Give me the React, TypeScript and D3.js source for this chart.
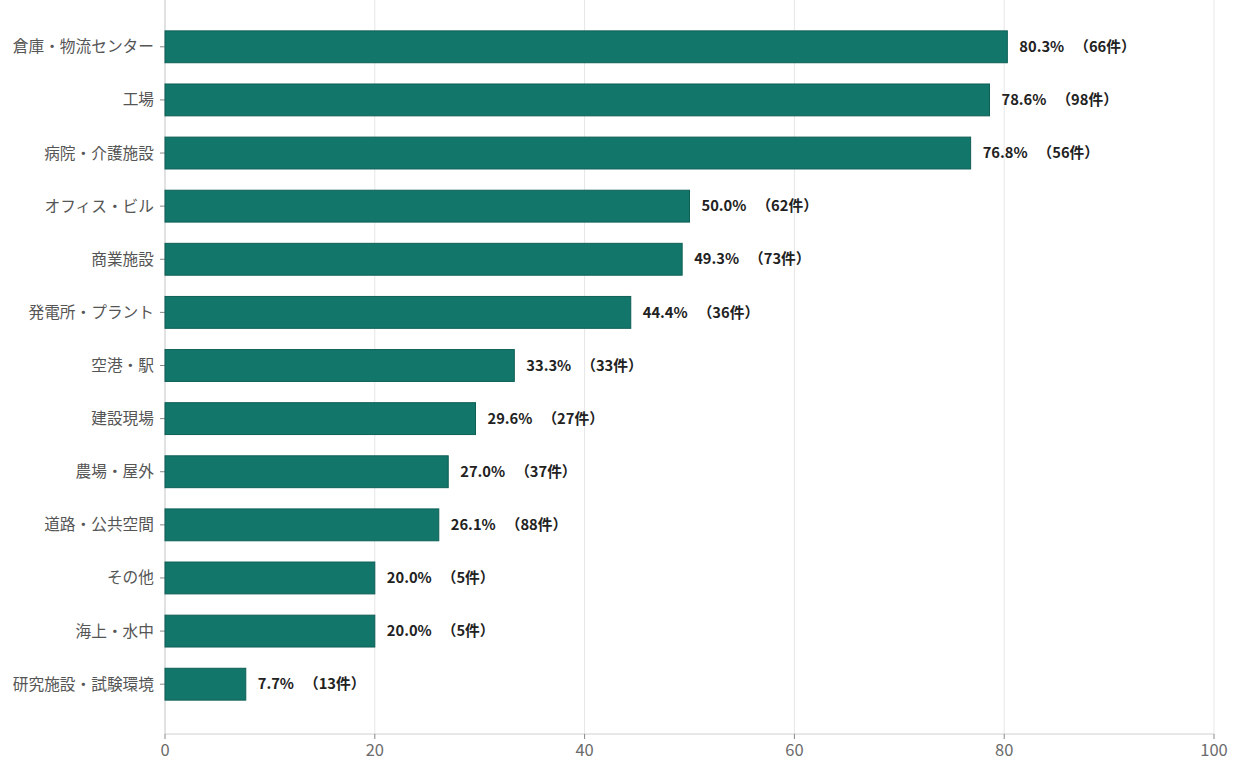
import React from "react";
import * as d3 from "d3";

const categories = [
  "倉庫・物流センター",
  "工場",
  "病院・介護施設",
  "オフィス・ビル",
  "商業施設",
  "発電所・プラント",
  "空港・駅",
  "建設現場",
  "農場・屋外",
  "道路・公共空間",
  "その他",
  "海上・水中",
  "研究施設・試験環境",
];
const percents = [80.3, 78.6, 76.8, 50.0, 49.3, 44.4, 33.3, 29.6, 27.0, 26.1, 20.0, 20.0, 7.7];
const counts = [66, 98, 56, 62, 73, 36, 33, 27, 37, 88, 5, 5, 13];
const xTicks = [0, 20, 40, 60, 80, 100];

const W = 1240;
const H = 764;
const FONT = "'Noto Sans CJK JP', 'Noto Sans', sans-serif";

export default function App() {
  const left = 165;
  const right = 1214;
  const bottom = 734;
  const x = d3.scaleLinear().domain([0, 100]).range([left, right]);
  const y = d3
    .scaleBand<string>()
    .domain(categories)
    .range([-1, 732])
    .paddingInner(0.4)
    .paddingOuter(0.6);
  const bw = y.bandwidth();

  return (
    <svg
      width={W}
      height={H}
      style={{ position: "absolute", left: 0, top: 0, background: "#fff" }}
      fontFamily={FONT}
    >
      {xTicks.map((t) => (
        <line key={"g" + t} x1={x(t)} x2={x(t)} y1={0} y2={bottom} stroke="#e6e6e6" strokeWidth={1} />
      ))}
      <line x1={left} x2={left} y1={0} y2={bottom} stroke="#d0d0d0" strokeWidth={1} />
      <line x1={left} x2={right} y1={bottom} y2={bottom} stroke="#d0d0d0" strokeWidth={1} />
      {xTicks.map((t) => (
        <g key={"t" + t}>
          <line x1={x(t)} x2={x(t)} y1={bottom} y2={bottom + 5} stroke="#888" />
          <text x={x(t)} y={bottom + 22} textAnchor="middle" fontSize={16.5} fill="#6b6b6b">
            {t}
          </text>
        </g>
      ))}
      {categories.map((c, i) => {
        const yy = y(c)!;
        const cy = yy + bw / 2;
        return (
          <g key={c}>
            <line x1={left - 5} x2={left} y1={cy} y2={cy} stroke="#888" />
            <text x={left - 11} y={cy} dy="0.35em" textAnchor="end" fontSize={15.7} fill="#555">
              {c}
            </text>
            <rect
              x={x(0)}
              y={yy}
              width={x(percents[i]) - x(0)}
              height={bw}
              fill="#12766b"
              stroke="#0e5f56"
              strokeWidth={1}
            />
            <text
              x={x(percents[i]) + 12}
              y={cy}
              dy="0.35em"
              fontSize={14.7}
              fontWeight={700}
              fill="#222"
            >
              <tspan>{`${percents[i].toFixed(1)}%`}</tspan>
              <tspan dx={10}>{`（${counts[i]}件）`}</tspan>
            </text>
          </g>
        );
      })}
    </svg>
  );
}
